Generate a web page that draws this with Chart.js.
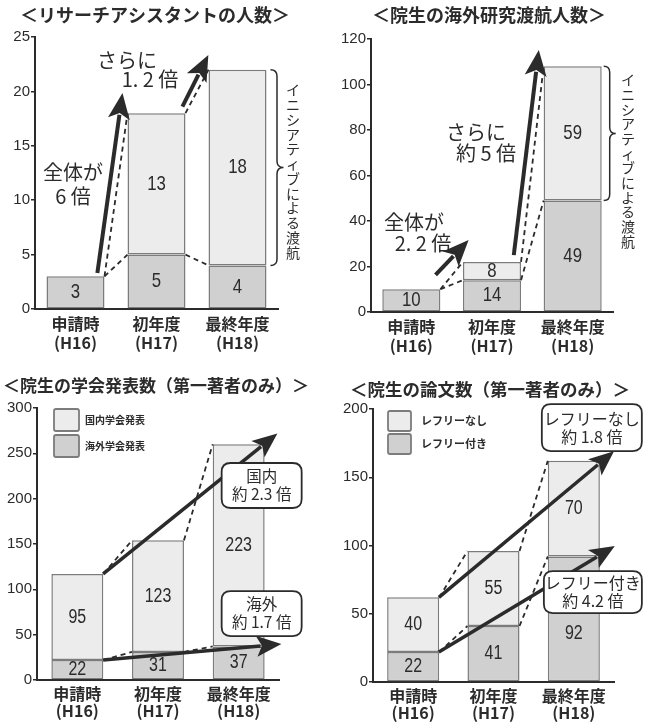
<!DOCTYPE html>
<html>
<head>
<meta charset="utf-8">
<script src="https://cdn.jsdelivr.net/npm/chart.js@4/dist/chart.umd.min.js"></script>
<style>
  html, body { margin: 0; padding: 0; background: #fff; }
  #wrap { position: relative; width: 653px; height: 722px; overflow: hidden; }
  .panel { position: absolute; }
</style>
</head>
<body>
<div id="wrap">
  <div class="panel" style="left:0;top:0;width:326px;height:361px"><canvas id="c1"></canvas></div>
  <div class="panel" style="left:326px;top:0;width:327px;height:361px"><canvas id="c2"></canvas></div>
  <div class="panel" style="left:0;top:361px;width:326px;height:361px"><canvas id="c3"></canvas></div>
  <div class="panel" style="left:326px;top:361px;width:327px;height:361px"><canvas id="c4"></canvas></div>
</div>
<script>
// Fiscal-year categories
const categories = [['申請時', '(H16)'], ['初年度', '(H17)'], ['最終年度', '(H18)']];

// Research assistants
const raRegular = [3, 5, 4];
const raInitiative = [0, 13, 18];

// Graduate students sent abroad for research
const travelRegular = [10, 14, 49];
const travelInitiative = [0, 8, 59];

// Conference presentations (first author only)
const confOverseas = [22, 31, 37];
const confDomestic = [95, 123, 223];

// Papers (first author only)
const paperRefereed = [22, 41, 92];
const paperNonRefereed = [40, 55, 70];

// Axis ranges
const yMaxes = [25, 120, 300, 200];
const ySteps = [5, 20, 50, 50];

const INK = '#2b2b2b';
const DARK = '#d0d0d0';
const LIGHT = '#ececec';
const EDGE = '#7c7c7c';
const CJK = '"Noto Sans CJK JP", "Noto Sans", sans-serif';
const NUM = '"Liberation Sans", sans-serif';

function barEdge(chart, i, side) {
  const el = chart.getDatasetMeta(0).data[i];
  return el.x + side * el.width / 2;
}
function levelY(chart, i, which) {
  const base = chart.data.datasets[0].data[i];
  const top = chart.data.datasets[1].data[i];
  return chart.scales.y.getPixelForValue(which === 'base' ? base : base + top);
}
function px(chart, pt) {
  return [chart.scales.x.getPixelForValue(pt[0]), chart.scales.y.getPixelForValue(pt[1])];
}

function drawArrow(ctx, x1, y1, x2, y2, w, hl, hw) {
  const a = Math.atan2(y2 - y1, x2 - x1);
  const c = Math.cos(a), s = Math.sin(a);
  const bx = x2 - hl * c, by = y2 - hl * s;
  ctx.lineWidth = w;
  ctx.lineCap = 'butt';
  ctx.beginPath();
  ctx.moveTo(x1, y1);
  ctx.lineTo(bx + 4 * c, by + 4 * s);
  ctx.stroke();
  const nx = x2 - hl * 0.78 * c, ny = y2 - hl * 0.78 * s;
  ctx.beginPath();
  ctx.moveTo(x2, y2);
  ctx.lineTo(bx + hw * s, by - hw * c);
  ctx.lineTo(nx, ny);
  ctx.lineTo(bx - hw * s, by + hw * c);
  ctx.closePath();
  ctx.fill();
}

function drawBrace(ctx, x, y1, y2, d, ym) {
  const r = d / 2;
  ctx.beginPath();
  ctx.moveTo(x, y1);
  ctx.quadraticCurveTo(x + r, y1, x + r, y1 + r);
  ctx.lineTo(x + r, ym - r);
  ctx.quadraticCurveTo(x + r, ym, x + d, ym);
  ctx.quadraticCurveTo(x + r, ym, x + r, ym + r);
  ctx.lineTo(x + r, y2 - r);
  ctx.quadraticCurveTo(x + r, y2, x, y2);
  ctx.stroke();
}

function roundRect(ctx, x, y, w, h, r) {
  ctx.beginPath();
  ctx.moveTo(x + r, y);
  ctx.lineTo(x + w - r, y);
  ctx.quadraticCurveTo(x + w, y, x + w, y + r);
  ctx.lineTo(x + w, y + h - r);
  ctx.quadraticCurveTo(x + w, y + h, x + w - r, y + h);
  ctx.lineTo(x + r, y + h);
  ctx.quadraticCurveTo(x, y + h, x, y + h - r);
  ctx.lineTo(x, y + r);
  ctx.quadraticCurveTo(x, y, x + r, y);
  ctx.closePath();
}

function annotations(cfg) {
  return {
    id: 'annot' + cfg.el,
    afterDatasetsDraw(chart) {
      const ctx = chart.ctx;
      ctx.save();
      ctx.fillStyle = INK;
      ctx.strokeStyle = INK;

      // segment values, set in a condensed face
      ctx.textAlign = 'center';
      ctx.textBaseline = 'middle';
      ctx.font = `${cfg.valueSize}px ${NUM}`;
      chart.data.datasets.forEach((ds, d) => {
        const meta = chart.getDatasetMeta(d);
        ds.data.forEach((v, i) => {
          if (!v) return;
          const el = meta.data[i];
          const shift = (cfg.valueShift && cfg.valueShift[d] && cfg.valueShift[d][i]) || 0;
          ctx.save();
          ctx.translate(el.x, (el.y + el.base) / 2 + shift);
          ctx.scale(0.8, 1);
          ctx.fillText(String(v), 0, 0);
          ctx.restore();
        });
      });

      // dashed connectors between neighbouring bars
      ctx.setLineDash([5, 4]);
      ctx.lineWidth = 1.8;
      for (let i = 0; i < 2; i++) {
        for (const w of ['total', 'base']) {
          ctx.beginPath();
          ctx.moveTo(barEdge(chart, i, 1), levelY(chart, i, w));
          ctx.lineTo(barEdge(chart, i + 1, -1), levelY(chart, i + 1, w));
          ctx.stroke();
        }
      }
      ctx.setLineDash([]);

      // growth arrows
      (cfg.arrows || []).forEach(a => {
        const [x1, y1] = px(chart, a.from);
        const [x2, y2] = px(chart, a.to);
        drawArrow(ctx, x1, y1, x2, y2, a.w, a.hl, a.hw);
      });

      // brace + vertical caption
      if (cfg.brace) {
        const b = cfg.brace;
        const x = barEdge(chart, 2, 1) + b.gap;
        const y1 = levelY(chart, 2, 'total');
        const y2 = levelY(chart, 2, 'base');
        ctx.lineWidth = 1.5;
        drawBrace(ctx, x, y1, y2, b.depth, (y1 + y2) / 2);
        ctx.font = `${b.size}px ${CJK}`;
        ctx.textAlign = 'center';
        ctx.textBaseline = 'middle';
        [...b.text].forEach((ch, k) => ctx.fillText(ch, b.x, b.y + k * b.pitch));
      }

      // free text notes
      (cfg.notes || []).forEach(n => {
        ctx.font = `${n.size}px ${CJK}`;
        ctx.textAlign = 'center';
        ctx.textBaseline = 'middle';
        ctx.fillText(n.text, n.x, n.y);
      });

      // callout boxes
      (cfg.callouts || []).forEach(c => {
        const [cx, cy] = px(chart, c.at);
        ctx.fillStyle = '#fff';
        ctx.lineWidth = 1.8;
        roundRect(ctx, cx - c.w / 2, cy - c.h / 2, c.w, c.h, 9);
        ctx.fill();
        ctx.stroke();
        ctx.fillStyle = INK;
        ctx.font = `${c.size}px ${CJK}`;
        ctx.textAlign = 'center';
        ctx.textBaseline = 'middle';
        ctx.fillText(c.lines[0], cx, cy - 9);
        ctx.fillText(c.lines[1], cx, cy + 9);
      });

      ctx.restore();
    },
    afterDraw(chart) {
      const ctx = chart.ctx;
      ctx.save();
      // title
      ctx.fillStyle = INK;
      ctx.font = `bold ${cfg.titleSize}px ${CJK}`;
      ctx.textAlign = 'center';
      ctx.textBaseline = 'middle';
      ctx.fillText(cfg.title, cfg.titleX, cfg.titleY);

      // legend (top series first)
      if (cfg.legend) {
        const L = cfg.legend;
        const order = [1, 0];
        order.forEach((d, k) => {
          const ds = chart.data.datasets[d];
          const y = L.y + k * L.gap;
          ctx.fillStyle = ds.backgroundColor;
          ctx.strokeStyle = EDGE;
          ctx.lineWidth = 1.8;
          roundRect(ctx, L.x, y, L.w, L.h, 2);
          ctx.fill();
          ctx.stroke();
          ctx.fillStyle = INK;
          ctx.font = `bold ${L.size}px ${CJK}`;
          ctx.textAlign = 'left';
          ctx.textBaseline = 'middle';
          ctx.fillText(ds.label, L.tx, y + L.h / 2);
        });
      }
      ctx.restore();
    }
  };
}

function makePanel(cfg) {
  return new Chart(document.getElementById(cfg.el), {
    type: 'bar',
    data: {
      labels: categories,
      datasets: [
        { label: cfg.labels[0], data: cfg.series[0], backgroundColor: DARK, borderColor: EDGE,
          borderWidth: c => (c.raw ? 1.5 : 0), borderSkipped: false,
          barPercentage: cfg.barPct, categoryPercentage: 1 },
        { label: cfg.labels[1], data: cfg.series[1], backgroundColor: LIGHT, borderColor: EDGE,
          borderWidth: c => (c.raw ? 1.5 : 0), borderSkipped: false,
          barPercentage: cfg.barPct, categoryPercentage: 1 }
      ]
    },
    options: {
      responsive: true,
      maintainAspectRatio: false,
      animation: false,
      devicePixelRatio: 1,
      layout: { padding: { left: 0, top: cfg.area.top, right: cfg.W - cfg.area.right, bottom: 0 } },
      plugins: { legend: { display: false }, tooltip: { enabled: false }, title: { display: false } },
      scales: {
        x: {
          stacked: true,
          grid: { display: false },
          border: { display: true, color: INK, width: 2 },
          ticks: { color: INK, padding: -3, maxRotation: 0, autoSkip: false,
                   font: { family: CJK, size: 16, weight: 'bold', lineHeight: cfg.lineH } },
          afterFit(s) { s.height = cfg.H - cfg.area.bottom; }
        },
        y: {
          stacked: true,
          min: 0,
          max: cfg.max,
          ticks: { stepSize: cfg.step, color: INK, padding: 1,
                   font: { family: '"Liberation Sans", sans-serif', size: 15 } },
          grid: { display: true, drawOnChartArea: false, drawTicks: true, tickLength: 4, color: INK, lineWidth: 1.5 },
          border: { display: true, color: INK, width: 2 },
          afterFit(s) { s.width = cfg.area.left; }
        }
      }
    },
    plugins: [annotations(cfg)]
  });
}

// Research assistants
makePanel({
  el: 'c1', W: 326, H: 361, area: { left: 35, right: 278, top: 37, bottom: 309 }, lineH: 1.2,
  series: [raRegular, raInitiative], labels: ['通常', 'イニシアティブによる渡航'],
  max: yMaxes[0], step: ySteps[0], barPct: 0.716, valueSize: 21,
  title: '＜リサーチアシスタントの人数＞', titleX: 155, titleY: 15, titleSize: 18,
  notes: [
    { text: '全体が', x: 73, y: 172, size: 20 },
    { text: '6 倍', x: 73, y: 196, size: 20 },
    { text: 'さらに', x: 127, y: 60, size: 20 },
    { text: '1. 2 倍', x: 150, y: 79, size: 20 }
  ],
  arrows: [
    { from: [0.27, 3.3], to: [0.58, 19.85], w: 4, hl: 26, hw: 11 },
    { from: [1.32, 18.6], to: [1.64, 23.35], w: 4, hl: 26, hw: 11 }
  ],
  brace: { gap: 4, depth: 13, x: 293, y: 90, pitch: 14.75, size: 14, text: 'イニシアティブによる渡航' }
});

// Graduate students abroad
makePanel({
  el: 'c2', W: 327, H: 361, area: { left: 45, right: 287, top: 39, bottom: 312 }, lineH: 1.2,
  series: [travelRegular, travelInitiative], labels: ['通常', 'イニシアティブによる渡航'],
  max: yMaxes[1], step: ySteps[1], barPct: 0.72, valueSize: 21,
  title: '＜院生の海外研究渡航人数＞', titleX: 163, titleY: 15, titleSize: 18,
  notes: [
    { text: '全体が', x: 88, y: 222, size: 20 },
    { text: '2. 2 倍', x: 97, y: 243, size: 20 },
    { text: 'さらに', x: 150, y: 132, size: 20 },
    { text: '約 5 倍', x: 160, y: 153, size: 20 }
  ],
  arrows: [
    { from: [0.30, 16.3], to: [0.71, 31.6], w: 4, hl: 26, hw: 11 },
    { from: [1.27, 25], to: [1.58, 115.2], w: 4, hl: 26, hw: 11 }
  ],
  brace: { gap: 2, depth: 12, x: 302, y: 80, pitch: 14.67, size: 14, text: 'イニシアティブによる渡航' }
});

// Conference presentations
makePanel({
  el: 'c3', W: 326, H: 361, area: { left: 37, right: 279, top: 47, bottom: 319 }, lineH: 1.07,
  series: [confOverseas, confDomestic], labels: ['海外学会発表', '国内学会発表'],
  max: yMaxes[2], step: ySteps[2], barPct: 0.644, valueSize: 20,
  title: '＜院生の学会発表数（第一著者のみ）＞', titleX: 156, titleY: 25, titleSize: 17,
  legend: { x: 54, y: 48, w: 25, h: 22, gap: 26, tx: 85, size: 10 },
  arrows: [
    { from: [0.32, 117], to: [2.48, 272], w: 3.5, hl: 25, hw: 10.5 },
    { from: [0.32, 22], to: [2.53, 39.7], w: 3.5, hl: 25, hw: 10.5 }
  ],
  callouts: [
    { at: [2.285, 214.5], w: 80, h: 45, size: 15.5, lines: ['国内', '約 2.3 倍'] },
    { at: [2.285, 73.3], w: 80, h: 45, size: 15.5, lines: ['海外', '約 1.7 倍'] }
  ]
});

// Papers
makePanel({
  el: 'c4', W: 327, H: 361, area: { left: 47, right: 288, top: 48, bottom: 321 }, lineH: 1.07,
  series: [paperRefereed, paperNonRefereed], labels: ['レフリー付き', 'レフリーなし'],
  max: yMaxes[3], step: ySteps[3], barPct: 0.648, valueSize: 20,
  valueShift: [[0, 0, 15], [0, 0, 0]],
  title: '＜院生の論文数（第一著者のみ）＞', titleX: 164, titleY: 28, titleSize: 17.5,
  legend: { x: 62, y: 50, w: 23, h: 20, gap: 23, tx: 95, size: 11 },
  arrows: [
    { from: [0.32, 62], to: [2.50, 169], w: 3.5, hl: 25, hw: 10.5 },
    { from: [0.32, 22], to: [2.51, 99.6], w: 3.5, hl: 25, hw: 10.5 }
  ],
  callouts: [
    { at: [2.224, 186.4], w: 100, h: 47, size: 16, lines: ['レフリーなし', '約 1.8 倍'] },
    { at: [2.237, 65.9], w: 98, h: 42, size: 16, lines: ['レフリー付き', '約 4.2 倍'] }
  ]
});
</script>
</body>
</html>
